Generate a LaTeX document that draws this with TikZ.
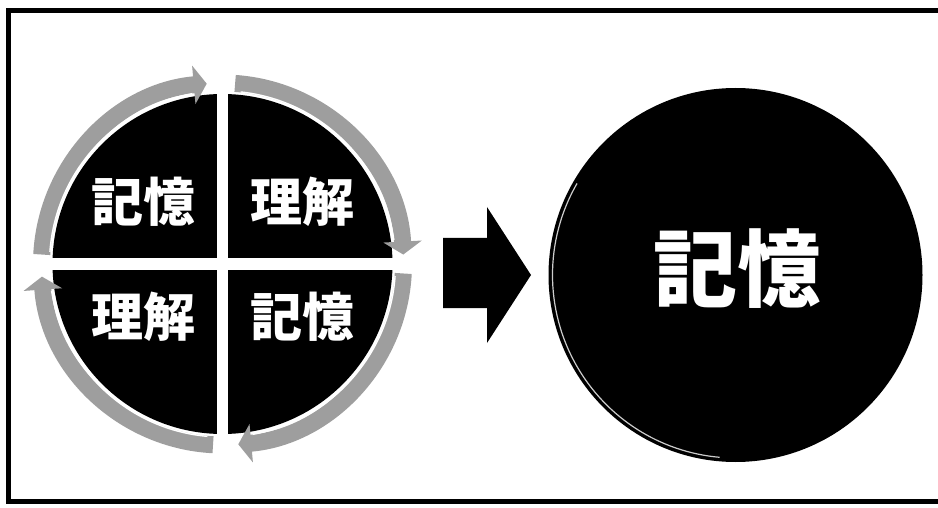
\documentclass[tikz,border=0pt]{standalone}
\usepackage{fontspec}
\newfontfamily\cjk{Noto Sans CJK JP}
\usetikzlibrary{arrows.meta,calc}
\definecolor{ringgray}{gray}{0.62}
\tikzset{
  ring/.style={line width=17pt, ringgray, -{Triangle[width=38pt,length=13pt]}},
  hilite/.style={line width=1.4pt, white},
  qtext/.style={text=white, font=\cjk\bfseries\fontsize{52}{52}\selectfont, inner sep=0pt},
  bigtext/.style={text=white, font=\cjk\bfseries\fontsize{84}{84}\selectfont, inner sep=0pt},
  frameline/.style={line width=5.5pt, black}
}
\begin{document}
\begin{tikzpicture}[x=1pt,y=1pt]
\useasboundingbox (0,0) rectangle (938,507);
% frame
\coordinate (ftl) at (8.5,496.5);
\coordinate (fbl) at (8.5,5.5);
\coordinate (ftr) at (938,496.5);
\coordinate (fbr) at (938,5.5);
\draw[frameline] (ftr) -- (ftl) -- (fbl) -- (fbr);

% left cycle
\coordinate (c) at (222.5,243);
\begin{scope}[shift={(c)}]
  \begin{scope}
    \clip (0,0) circle[radius=170];
    \fill[black] (-200,6) rectangle (-5.5,200);
    \fill[black] (5.5,6) rectangle (200,200);
    \fill[black] (-200,-6) rectangle (-5.5,-200);
    \fill[black] (5.5,-6) rectangle (200,-200);
  \end{scope}
  % ring arrows (clockwise)
  \draw[ring] (177:181) arc[start angle=177, end angle=95, radius=181];
  \draw[ring] (86:181) arc[start angle=86, end angle=3, radius=181];
  \draw[ring] (-3:181) arc[start angle=-3, end angle=-85, radius=181];
  \draw[ring] (-93:181) arc[start angle=-93, end angle=-176, radius=181];
  % highlight lines
  \draw[hilite] (176:173) arc[start angle=176, end angle=100, radius=173];
  \draw[hilite] (84:173) arc[start angle=84, end angle=8, radius=173];
  \draw[hilite] (-4:173) arc[start angle=-4, end angle=-80, radius=173];
  \draw[hilite] (-95:173) arc[start angle=-95, end angle=-171, radius=173];
\end{scope}
\node[qtext] (tl) at (143,305) {記憶};
\node[qtext] (tr) at (302,305) {理解};
\node[qtext] (bl) at (143,190) {理解};
\node[qtext] (br) at (302,190) {記憶};

% block arrow
\coordinate (a1) at (443,269);
\coordinate (a2) at (487,269);
\coordinate (a3) at (487,300);
\coordinate (a4) at (531,232);
\coordinate (a5) at (487,164);
\coordinate (a6) at (487,199);
\coordinate (a7) at (443,199);
\fill[black] (a1) -- (a2) -- (a3) -- (a4) -- (a5) -- (a6) -- (a7) -- cycle;

% right circle
\coordinate (rc) at (735.5,232);
\fill[black] (rc) circle[radius=187];
\draw[line width=1.2pt, gray!40] ($(rc)+(150:183)$) arc[start angle=150, end angle=265, radius=183];
\node[bigtext] (mem) at (737,238) {記憶};
\end{tikzpicture}
\end{document}
